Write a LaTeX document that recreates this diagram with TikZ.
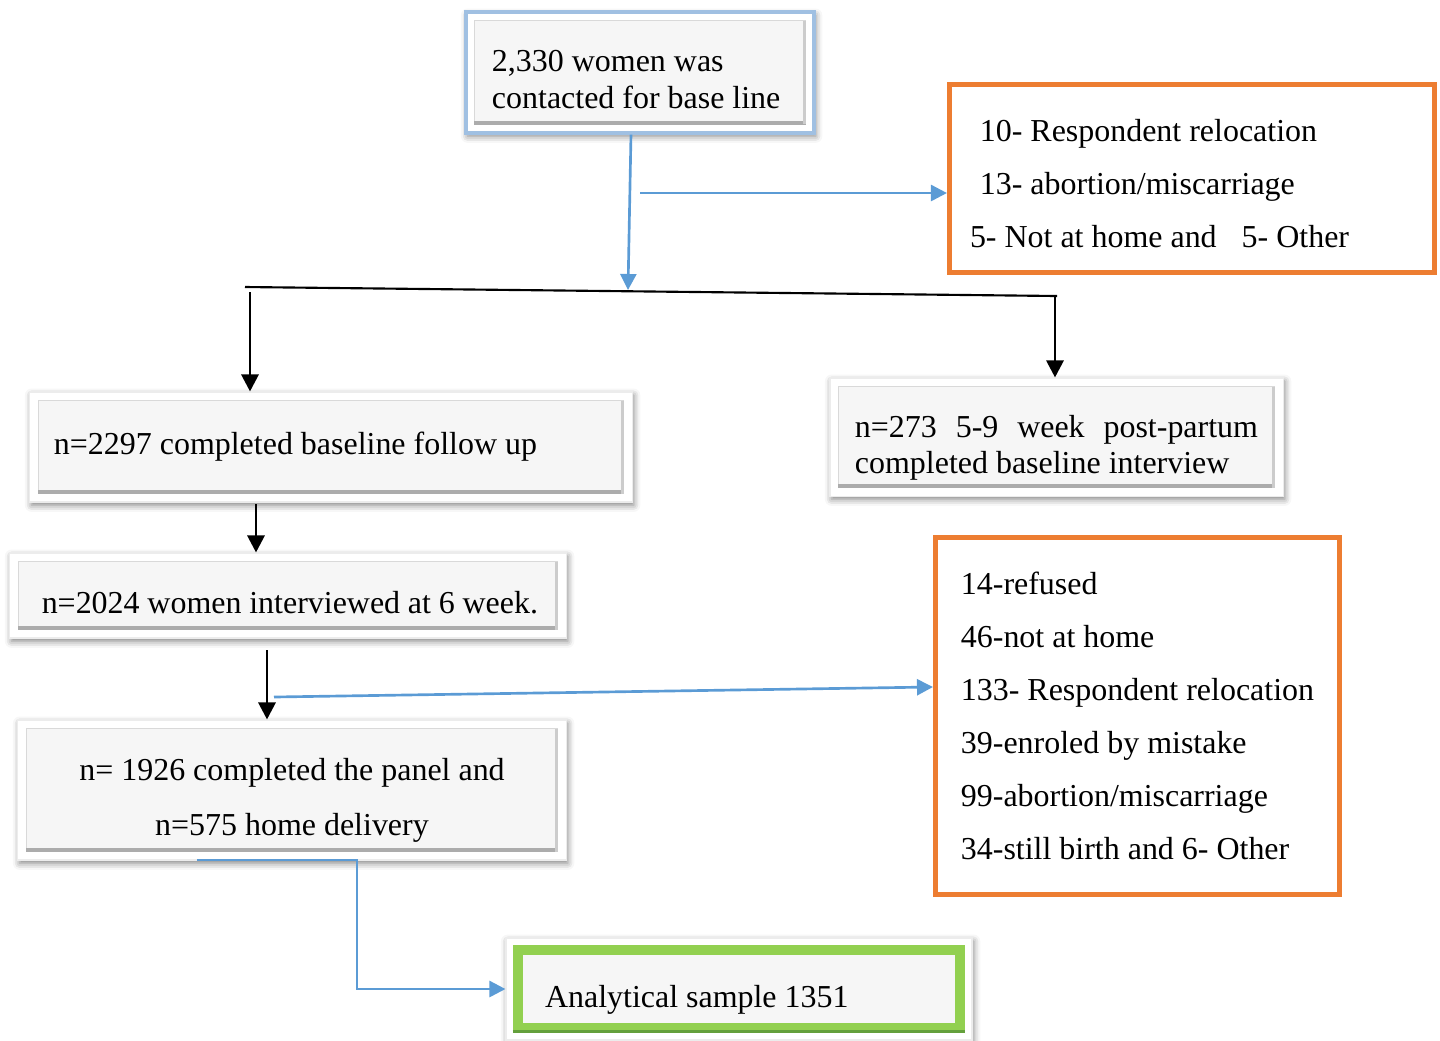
\documentclass[tikz,border=0pt]{standalone}
\usepackage{fontspec}
\setmainfont{Liberation Serif}
\usetikzlibrary{arrows.meta,shadows.blur,positioning}
\definecolor{fcorange}{RGB}{237,125,49}
\definecolor{fcblue}{RGB}{91,155,213}
\definecolor{fcedge}{RGB}{160,192,226}
\definecolor{fcgreen}{RGB}{146,208,80}
\definecolor{fcdarkgreen}{RGB}{100,160,60}
\definecolor{fcpanel}{RGB}{246,246,246}
\tikzstyle{bevelbox} = [rectangle, fill=white, draw=gray!15, inner ysep=0pt,
  blur shadow={shadow xshift=0.6pt, shadow yshift=-1.2pt, shadow blur radius=2.5pt, shadow opacity=50},
  path picture={
    \draw[gray!30, line width=0.4pt, fill=fcpanel] ([shift={(3.2pt,-3.2pt)}]path picture bounding box.north west) rectangle ([shift={(-3.2pt,3.2pt)}]path picture bounding box.south east);
    \draw[gray!65, line width=1.5pt] ([shift={(3.2pt,3.9pt)}]path picture bounding box.south west) -- ([shift={(-3.2pt,3.9pt)}]path picture bounding box.south east);
    \draw[gray!40, line width=1pt] ([shift={(-3.7pt,-3.2pt)}]path picture bounding box.north east) -- ([shift={(-3.7pt,3.2pt)}]path picture bounding box.south east);
  }]
\tikzstyle{greenbox} = [bevelbox,
  path picture={
    \fill[fcpanel] ([shift={(2.6pt,-2.6pt)}]path picture bounding box.north west) rectangle ([shift={(-2.6pt,2.6pt)}]path picture bounding box.south east);
    \draw[fcgreen, line width=3.7pt] ([shift={(4.45pt,-4.45pt)}]path picture bounding box.north west) rectangle ([shift={(-4.45pt,4.45pt)}]path picture bounding box.south east);
    \draw[fcdarkgreen, line width=1.2pt] ([shift={(2.6pt,3.2pt)}]path picture bounding box.south west) -- ([shift={(-2.6pt,3.2pt)}]path picture bounding box.south east);
  }]
\tikzstyle{lossbox} = [rectangle, draw=fcorange, line width=1.9pt, fill=white, inner ysep=0pt]
\tikzstyle{flow} = [draw=fcblue, line width=1pt, -{Triangle[width=6pt,length=6pt]}]
\tikzstyle{blackarrow} = [draw=black, line width=1.1pt, -{Triangle[width=6.4pt,length=6.4pt]}]

\begin{document}
\begin{tikzpicture}[x=0.0132cm, y=-0.0132cm, font=\fontsize{12}{13.8}\selectfont]
\useasboundingbox (0,0) rectangle (1440,1040);
% Boxes
\node[bevelbox, draw=fcedge, line width=1.2pt, minimum width=4.594cm, minimum height=1.597cm, text width=3.907cm, inner xsep=0.343cm, align=flush left] (base) at (640,72.5) {\rule{0pt}{13.2pt}2,330 women was\\contacted for base line};
\node[lossbox, minimum width=6.402cm, minimum height=2.482cm, text width=5.6cm, inner xsep=0.4cm, align=flush left] (loss1) at (1192,178.5) {\rule{0pt}{12.1pt}10- Respondent relocation\\[6.06pt]13- abortion/miscarriage\\[6.06pt]\hspace*{-0.13cm}5- Not at home and\hspace{0.33cm}5- Other};
\node[bevelbox, minimum width=7.946cm, minimum height=1.452cm, text width=7.313cm, inner xsep=0.317cm, align=flush left] (follow) at (331,447) {n=2297 completed baseline follow up};
\node[bevelbox, minimum width=5.980cm, minimum height=1.558cm, text width=5.320cm, inner xsep=0.33cm, align=flush left] (postpartum) at (1056.5,437) {\rule{0pt}{16.5pt}n=273\hfill 5-9\hfill week\hfill post-partum\\completed baseline interview};
\node[bevelbox, minimum width=7.339cm, minimum height=1.122cm, text width=6.6cm, inner xsep=0.37cm, align=flush left, text height=15.8pt, text depth=2.6pt] (sixweek) at (288,595.5) {\hspace*{0.05cm}n=2024 women interviewed at 6 week.};
\node[bevelbox, minimum width=7.234cm, minimum height=1.848cm, align=center] (delivery) at (292,790) {\rule{0pt}{15.8pt}n= 1926 completed the panel and\\[6.8pt]n=575 home delivery};
\node[lossbox, minimum width=5.333cm, minimum height=4.712cm, align=left] (loss2) at (1137.5,716) {14-refused\\[6.06pt]46-not at home\\[6.06pt]133- Respondent relocation\\[6.06pt]39-enroled by mistake\\[6.06pt]99-abortion/miscarriage\\[6.06pt]34-still birth and 6- Other};
\node[greenbox, minimum width=6.151cm, minimum height=1.346cm, text width=5.12cm, inner xsep=0.515cm, align=flush left, text height=16.8pt, text depth=2.6pt] (final) at (739,989) {Analytical sample 1351};

% Connectors
\coordinate (split) at (628,290);
\coordinate (tap1) at (640,193);
\coordinate (barl) at (245,287);
\coordinate (barr) at (1057,296);
\coordinate (dropl) at (250,292);
\coordinate (dropr) at (1055,296);
\coordinate (drop2) at (256,504);
\coordinate (drop3) at (267,650);
\coordinate (tap2) at (274,697);
\coordinate (tap3) at (197,860);

\draw[flow] ([xshift=-0.119cm]base.south) -- (split);
\draw[flow] (tap1) -- (tap1 -| loss1.west);
\draw[line width=0.8pt] (barl) -- (barr);
\draw[blackarrow] (dropl) -- (dropl |- follow.north);
\draw[blackarrow] (dropr) -- (dropr |- postpartum.north);
\draw[blackarrow] (drop2) -- (drop2 |- sixweek.north);
\draw[blackarrow] (drop3) -- (drop3 |- delivery.north);
\draw[flow] (tap2) -- ([yshift=0.383cm]loss2.west);
\draw[flow] (tap3) -- ++(160,0) |- (final.west);
\end{tikzpicture}
\end{document}
